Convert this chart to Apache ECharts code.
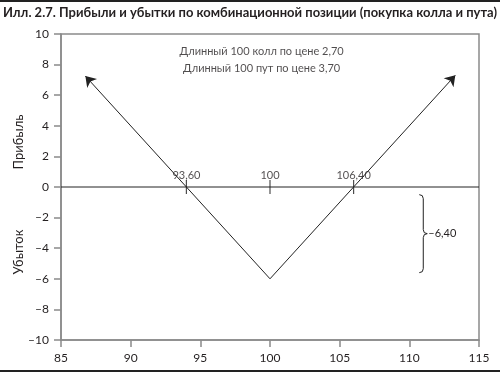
<!DOCTYPE html>
<html><head><meta charset="utf-8">
<script src="https://cdn.jsdelivr.net/npm/echarts@6/dist/echarts.min.js"></script>
<style>html,body{margin:0;padding:0;background:#fff}#c{width:500px;height:373px}</style>
</head><body><div id="c"></div>
<script>
const titleText = 'Илл. 2.7. Прибыли и убытки по комбинационной позиции (покупка колла и пута)';
const xMin = 85, xMax = 115, xStep = 5;
const yMin = -10, yMax = 10, yStep = 2;
const payoffX = [86.75, 100, 113.3];
const payoffY = [7.25, -6, 7.3];
const strikeX = [94, 100, 106];
const strikeLabels = ['93,60', '100', '106,40'];
const notes = ['Длинный 100 колл по цене 2,70', 'Длинный 100 пут по цене 3,70'];
const noteX = [99.4, 99.4];
const noteY = [8.85, 7.75];
const braceX = 111;
const braceTop = -0.5;
const braceBottom = -5.6;
const braceLabel = '–6,40';
const yNames = ['Прибыль', 'Убыток'];

const FONT = 'Lato';
const INK = '#231f20';
const AXIS = '#8a8a8a';

// fit title into the available width
const titleFont = 'bold 14px "' + FONT + '"';
const cv = document.createElement('canvas').getContext('2d');
cv.font = titleFont;
const tw = cv.measureText(titleText).width;
const titleScale = Math.min(1, 494 / tw);

const chart = echarts.init(document.getElementById('c'));
const fmt = v => String(v).replace('-', '–');

chart.setOption({
  animation: false,
  backgroundColor: '#fff',
  grid: { left: 61, right: 21, top: 34, bottom: 33, show: true, borderColor: AXIS, borderWidth: 1.5, backgroundColor: 'transparent' },
  xAxis: {
    type: 'value', min: xMin, max: xMax, interval: xStep,
    axisLine: { show: true, onZero: false, lineStyle: { color: AXIS, width: 1.5 } },
    axisTick: { show: true, inside: false, length: 7, lineStyle: { color: AXIS, width: 1.5 } },
    axisLabel: { color: INK, fontFamily: FONT, fontSize: 12, margin: 12, formatter: fmt },
    splitLine: { show: false }
  },
  yAxis: {
    type: 'value', min: yMin, max: yMax, interval: yStep,
    axisLine: { show: true, onZero: false, lineStyle: { color: AXIS, width: 1.5 } },
    axisTick: { show: true, inside: false, length: 7, lineStyle: { color: AXIS, width: 1.5 } },
    axisLabel: { color: INK, fontFamily: FONT, fontSize: 12, margin: 12, formatter: fmt },
    splitLine: { show: false }
  },
  graphic: [
    { type: 'rect', x: 0, y: 0, shape: { width: 500, height: 2 }, style: { fill: '#222' }, silent: true },
    { type: 'rect', x: 0, y: 370, shape: { width: 500, height: 2 }, style: { fill: '#222' }, silent: true },
    { type: 'text', x: 250, y: 12, scaleX: titleScale, silent: true,
      style: { text: titleText, fill: INK, font: titleFont, align: 'center', verticalAlign: 'middle' } },
    { type: 'text', x: 19, y: 142, rotation: Math.PI / 2, silent: true,
      style: { text: yNames[0], fill: INK, font: '13px "' + FONT + '"', align: 'center', verticalAlign: 'middle' } },
    { type: 'text', x: 19, y: 252, rotation: Math.PI / 2, silent: true,
      style: { text: yNames[1], fill: INK, font: '13px "' + FONT + '"', align: 'center', verticalAlign: 'middle' } }
  ],
  series: [
    {
      type: 'line', data: [[xMin, 0], [xMax, 0]], showSymbol: false, silent: true,
      lineStyle: { color: '#222', width: 1 }
    },
    {
      type: 'lines', coordinateSystem: 'cartesian2d', silent: true,
      symbol: ['none', 'arrow'], symbolSize: 10,
      lineStyle: { color: '#222', width: 1, opacity: 1 },
      data: [
        { coords: [[payoffX[1], payoffY[1]], [payoffX[0], payoffY[0]]] },
        { coords: [[payoffX[1], payoffY[1]], [payoffX[2], payoffY[2]]] }
      ]
    },
    {
      type: 'scatter', symbol: 'rect', symbolSize: [1.2, 14], silent: true,
      itemStyle: { color: '#222' },
      data: strikeX.map((x, i) => [x, 0, strikeLabels[i]]),
      label: { show: true, position: 'top', distance: 1, offset: [0, 2], formatter: p => p.data[2], color: INK, fontFamily: FONT, fontSize: 11 }
    },
    {
      type: 'scatter', symbolSize: 0, silent: true,
      data: notes.map((t, i) => [noteX[i], noteY[i], t]),
      label: { show: true, position: 'inside', align: 'center', formatter: p => p.data[2], color: INK, fontFamily: FONT, fontSize: 11 }
    },
    {
      type: 'custom', silent: true,
      data: [[braceX, braceTop, braceBottom]],
      renderItem: function (params, api) {
        const top = api.coord([api.value(0), api.value(1)]);
        const bot = api.coord([api.value(0), api.value(2)]);
        const x = top[0], y1 = top[1], y2 = bot[1], ym = (y1 + y2) / 2, r = 4;
        const st = { stroke: '#222', lineWidth: 1, fill: null };
        return {
          type: 'group', children: [
            { type: 'bezierCurve', shape: { x1: x - r, y1: y1, cpx1: x, cpy1: y1, x2: x, y2: y1 + r }, style: st },
            { type: 'line', shape: { x1: x, y1: y1 + r, x2: x, y2: ym - r }, style: st },
            { type: 'bezierCurve', shape: { x1: x, y1: ym - r, cpx1: x, cpy1: ym, x2: x + r, y2: ym }, style: st },
            { type: 'bezierCurve', shape: { x1: x + r, y1: ym, cpx1: x, cpy1: ym, x2: x, y2: ym + r }, style: st },
            { type: 'line', shape: { x1: x, y1: ym + r, x2: x, y2: y2 - r }, style: st },
            { type: 'bezierCurve', shape: { x1: x, y1: y2 - r, cpx1: x, cpy1: y2, x2: x - r, y2: y2 }, style: st },
            { type: 'text', style: { x: x + r + 1, y: ym, text: braceLabel, fill: INK, font: '11px "' + FONT + '"', verticalAlign: 'middle' } }
          ]
        };
      }
    }
  ]
});
</script></body></html>
